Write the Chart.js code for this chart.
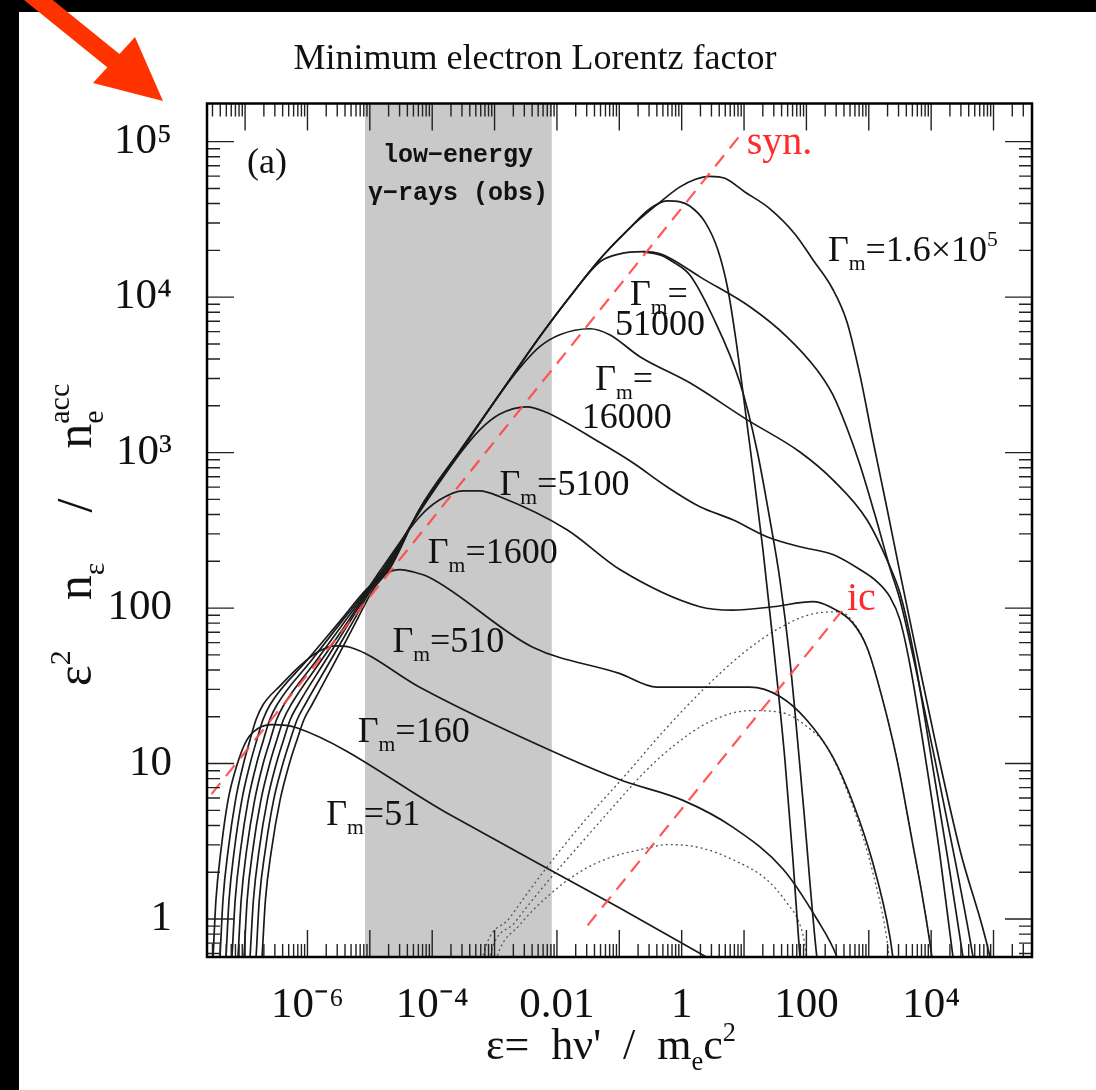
<!DOCTYPE html>
<html>
<head>
<meta charset="utf-8">
<script src="https://cdn.jsdelivr.net/npm/chart.js@4.4.1/dist/chart.umd.min.js"></script>
<style>
  html, body { margin: 0; padding: 0; background: #000; }
  #panel { position: absolute; left: 19px; top: 12px; width: 1077px; height: 1078px; background: #fff; }
  #arrow { position: absolute; left: 0; top: 0; }
</style>
</head>
<body>
<div id="panel"><canvas id="myChart" width="1077" height="1078"></canvas></div>
<svg id="arrow" width="200" height="120">
  <line x1="26" y1="-10" x2="120" y2="66" stroke="#ff3300" stroke-width="18"/>
  <polygon points="163,101 93,83 135,37" fill="#ff3300"/>
</svg>
<script>
// axis ranges and ticks
const xMin = 2.45e-8, xMax = 4.14e5;
const yMin = 0.57, yMax = 1.76e5;
const xTickVals = [1e-6, 1e-4, 1e-2, 1, 100, 1e4];
const xTickText = ['10⁻⁶', '10⁻⁴', '0.01', '1', '100', '10⁴'];
const yTickVals = [1, 10, 100, 1e3, 1e4, 1e5];
const yTickText = ['1', '10', '100', '10³', '10⁴', '10⁵'];

// grey band: low-energy gamma-rays (obs)
const bandEdges = [8.3e-6, 8.3e-3];

// total spectra: eps = h nu' / me c^2, spec = eps^2 n_eps / n_e^acc
const eps51 = [2.84e-8, 3.06e-8, 3.41e-8, 4.11e-8, 5.32e-8, 7.41e-8, 1.07e-7, 1.61e-7, 2.70e-7, 6.73e-7, 1.9e-4, 0.10, 8.6];
const spec51 = [0.35, 0.57, 1.33, 2.79, 5.8, 9.8, 14.2, 16.8, 17.8, 17.0, 4.7, 1.18, 0.43];

const eps160 = [3.68e-8, 3.96e-8, 4.42e-8, 5.36e-8, 7.01e-8, 9.32e-8, 1.20e-7, 1.50e-7, 1.94e-7, 3.63e-7, 7.59e-7, 1.48e-6, 2.76e-6, 4.81e-6, 6.3e-5, 1.2e-3, 0.10, 1.05, 6.6, 42, 147, 309, 500];
const spec160 = [0.35, 0.57, 1.33, 2.79, 5.8, 9.8, 14.2, 19.2, 23.9, 31.6, 42.5, 52.4, 57.2, 56, 31, 17.2, 7.9, 5.8, 3.9, 2.1, 1.0, 0.57, 0.3];

const eps510 = [4.59e-8, 4.94e-8, 5.53e-8, 6.73e-8, 8.85e-8, 1.19e-7, 1.54e-7, 1.94e-7, 2.51e-7, 1.0e-6, 3.45e-6, 8.68e-6, 1.75e-5, 3.05e-5, 4.92e-5, 9.22e-5, 4.1e-3, 0.10, 0.40, 12.4, 37.6, 102, 266, 557, 1160, 2180, 2830];
const spec510 = [0.35, 0.57, 1.33, 2.79, 5.8, 9.8, 14.2, 19.2, 23.9, 46.5, 84, 131, 166, 177, 171, 157, 56, 38, 31, 31, 27, 19, 11, 5.6, 2.3, 0.77, 0.35];

const eps1600 = [5.72e-8, 6.16e-8, 6.94e-8, 8.47e-8, 1.12e-7, 1.51e-7, 1.97e-7, 2.49e-7, 3.25e-7, 1.18e-6, 3.71e-6, 9.01e-6, 1.63e-5, 6.3e-5, 1.32e-4, 3.1e-4, 5.8e-4, 1.22e-3, 1.45e-2, 0.102, 1.96, 6.6, 29, 127, 238, 557, 934, 1510, 2830, 4920, 7390, 10300, 11900];
const spec1600 = [0.35, 0.57, 1.33, 2.79, 5.8, 9.8, 14.2, 19.2, 23.9, 46.5, 84, 131, 185, 387, 497, 568, 568, 520, 319, 177, 102, 97, 102, 110, 102, 80, 56, 29.9, 10.6, 3.24, 1.33, 0.57, 0.35];

const eps5100 = [7.14e-8, 7.69e-8, 8.66e-8, 1.06e-7, 1.42e-7, 1.92e-7, 2.53e-7, 3.20e-7, 4.20e-7, 1.42e-6, 4.15e-6, 9.35e-6, 1.75e-5, 6.3e-5, 2.77e-4, 5.8e-4, 1.22e-3, 3.3e-3, 6.4e-3, 4.9e-2, 0.165, 0.58, 1.96, 6.6, 23.2, 78.7, 266, 721, 1350, 2180, 3160, 4570, 7940, 13800, 22400, 26900];
const spec5100 = [0.35, 0.57, 1.33, 2.79, 5.8, 9.8, 14.2, 19.2, 23.9, 46.5, 84, 131, 185, 416, 982, 1400, 1770, 1970, 1830, 1160, 860, 603, 449, 370, 288, 248, 221, 177, 148, 118, 84, 43.2, 11.4, 2.59, 0.57, 0.35];

const eps16000 = [8.92e-8, 9.60e-8, 1.08e-7, 1.33e-7, 1.79e-7, 2.45e-7, 3.23e-7, 4.13e-7, 5.44e-7, 1.69e-6, 4.63e-6, 9.70e-6, 1.85e-5, 6.3e-5, 2.77e-4, 1.22e-3, 2.55e-3, 5.3e-3, 1.11e-2, 3.37e-2, 7.0e-2, 0.214, 1.35, 11.1, 78.7, 266, 934, 2180, 3160, 5110, 9570, 18600, 32400, 38900];
const spec16000 = [0.35, 0.57, 1.33, 2.79, 5.8, 9.8, 14.2, 19.2, 23.9, 46.5, 84, 131, 185, 423, 997, 2390, 3520, 4800, 5730, 6260, 5730, 4140, 2810, 1630, 1010, 668, 370, 185, 125, 54, 12.3, 2.41, 0.57, 0.35];

const eps51000 = [1.11e-7, 1.20e-7, 1.36e-7, 1.68e-7, 2.27e-7, 3.12e-7, 4.14e-7, 5.30e-7, 7.05e-7, 1.98e-6, 4.99e-6, 1.01e-5, 1.96e-5, 6.3e-5, 2.77e-4, 1.22e-3, 5.3e-3, 1.61e-2, 4.9e-2, 0.102, 0.239, 0.45, 0.72, 1.96, 12.4, 48.7, 147, 266, 446, 721, 1255, 2180, 3160, 5500, 11500, 24100, 46900, 56300];
const spec51000 = [0.35, 0.57, 1.33, 2.79, 5.8, 9.8, 14.2, 19.2, 23.9, 46.5, 84, 131, 185, 428, 1012, 2390, 5560, 10050, 16900, 19000, 19600, 19000, 17400, 13500, 8670, 5560, 3410, 2350, 1440, 835, 398, 182, 113, 43.2, 10.6, 2.41, 0.57, 0.35];

// steep branch leaving the 51000 peak
const epsSteepA = [0.239, 0.45, 0.72, 1.35, 3.16, 8.6, 16.1, 26, 37.6, 54.3, 88, 147, 177];
const specSteepA = [19600, 18700, 16900, 13900, 7480, 2810, 1040, 370, 152, 46.5, 5.8, 0.57, 0.35];

// unlabelled curve peaking near 4e4
const epsSteepB = [1.39e-7, 1.50e-7, 1.69e-7, 2.11e-7, 2.86e-7, 3.98e-7, 5.30e-7, 6.85e-7, 9.13e-7, 2.38e-6, 5.57e-6, 1.04e-5, 2.07e-5, 6.3e-5, 2.77e-4, 1.22e-3, 5.3e-3, 1.61e-2, 4.9e-2, 0.148, 0.309, 0.58, 0.94, 1.35, 2.36, 3.81, 5.51, 7.40, 9.95, 13.9, 20.1, 30.1, 45.2, 60.8, 78.7, 88];
const specSteepB = [0.35, 0.57, 1.33, 2.79, 5.8, 9.8, 14.2, 19.2, 23.9, 46.5, 84, 131, 185, 432, 1019, 2390, 5560, 10050, 17600, 27900, 37000, 41600, 41000, 38600, 30500, 20100, 11200, 5330, 2190, 776, 237, 54, 10.6, 2.41, 0.57, 0.35];

const eps160k = [1.73e-7, 1.87e-7, 2.12e-7, 2.65e-7, 3.63e-7, 5.06e-7, 6.79e-7, 8.80e-7, 1.18e-6, 2.87e-6, 6.23e-6, 1.12e-5, 2.19e-5, 6.3e-5, 2.77e-4, 1.22e-3, 5.3e-3, 1.61e-2, 4.9e-2, 0.148, 0.40, 0.94, 1.63, 2.83, 4.93, 10.3, 26, 65.3, 127, 266, 446, 721, 1160, 1950, 3160, 5500, 11500, 28900, 87700, 1.09e5];
const spec160k = [0.35, 0.57, 1.33, 2.79, 5.8, 9.8, 14.2, 19.2, 23.9, 46.5, 84, 131, 185, 435, 1027, 2390, 5560, 10050, 17600, 27900, 39300, 51200, 57100, 59900, 58100, 47500, 37000, 25500, 17400, 11200, 6950, 3160, 1210, 442, 169, 58, 14.2, 2.79, 0.57, 0.35];

// inverse-Compton components (dotted)
const epsIcLow = [8.4e-4, 1.09e-3, 2.55e-3, 7.7e-3, 2.33e-2, 7.0e-2, 0.214, 0.58, 1.96, 6.6, 23.2, 48.7, 78.7, 94.6, 106];
const specIcLow = [0.35, 0.57, 0.92, 1.44, 2.01, 2.48, 2.79, 3.01, 2.88, 2.41, 1.79, 1.27, 0.92, 0.68, 0.44];
const epsIcMid = [6.98e-4, 8.4e-4, 2.11e-3, 6.4e-3, 2.33e-2, 8.49e-2, 0.257, 0.778, 2.83, 12.4, 42, 102, 213, 557, 1160, 1950, 2270];
const specIcMid = [0.35, 0.57, 0.95, 1.66, 3.01, 5.43, 8.86, 13.2, 18.6, 21.9, 21.2, 17.3, 12.8, 5.3, 1.99, 0.74, 0.44];
const epsIcHigh = [5.4e-4, 6.48e-4, 1.76e-3, 6.4e-3, 2.70e-2, 0.123, 0.537, 2.36, 10.3, 37.6, 127, 346, 557, 934, 1510, 2830, 4920, 7390, 10300, 11900];
const specIcHigh = [0.35, 0.57, 1.02, 2.07, 4.23, 8.35, 16.5, 30.7, 52.4, 74.7, 91.9, 94.7, 81.6, 56, 29.9, 10.6, 3.24, 1.33, 0.57, 0.35];

// red dashed guide lines
const epsSyn = [1.0e-8, 9.3];
const specSyn = [3.74, 1.14e5];
const epsIc = [0.031, 370];
const specIc = [0.91, 96];

const SERIF = '"Liberation Serif", "Times New Roman", serif';

function toPoints(xs, ys) {
    return xs.map((x, i) => ({ x: x, y: ys[i] }));
}

const solidCurves = [
    [eps51, spec51], [eps160, spec160], [eps510, spec510], [eps1600, spec1600],
    [eps5100, spec5100], [eps16000, spec16000], [eps51000, spec51000],
    [epsSteepA, specSteepA], [epsSteepB, specSteepB], [eps160k, spec160k]
];
const dottedCurves = [[epsIcLow, specIcLow], [epsIcMid, specIcMid], [epsIcHigh, specIcHigh]];

const datasets = [];
datasets.push({
    data: [{ x: bandEdges[0], y: yMax }, { x: bandEdges[1], y: yMax }],
    borderWidth: 0, pointRadius: 0, fill: 'start', backgroundColor: '#c9c9c9', order: 10
});
dottedCurves.forEach(c => datasets.push({
    data: toPoints(c[0], c[1]), borderColor: '#555', borderWidth: 1.3, borderDash: [2, 3],
    pointRadius: 0, fill: false, cubicInterpolationMode: 'monotone', order: 2
}));
solidCurves.forEach(c => datasets.push({
    data: toPoints(c[0], c[1]), borderColor: '#1a1a1a', borderWidth: 1.7,
    pointRadius: 0, fill: false, cubicInterpolationMode: 'monotone', order: 1
}));
[[epsSyn, specSyn], [epsIc, specIc]].forEach(c => datasets.push({
    data: toPoints(c[0], c[1]), borderColor: 'rgba(255,70,70,0.9)', borderWidth: 2.2, borderDash: [14, 9],
    pointRadius: 0, fill: false, order: 0
}));

// frame with inward ticks on all four sides
const framePlugin = {
    id: 'frame',
    afterDatasetsDraw(chart) {
        const { ctx, chartArea: a, scales: { x, y } } = chart;
        ctx.save();
        ctx.strokeStyle = '#222';
        ctx.lineWidth = 1.4;
        ctx.beginPath();
        for (let e = -8; e <= 5; e++) {
            for (let m = 1; m < 10; m++) {
                const v = m * Math.pow(10, e);
                const len = m === 1 ? 27 : 13;
                const px = x.getPixelForValue(v);
                if (px > a.left + 1 && px < a.right - 1) {
                    ctx.moveTo(px, a.bottom); ctx.lineTo(px, a.bottom - len);
                    ctx.moveTo(px, a.top); ctx.lineTo(px, a.top + len);
                }
                const py = y.getPixelForValue(v);
                if (py > a.top + 1 && py < a.bottom - 1) {
                    ctx.moveTo(a.left, py); ctx.lineTo(a.left + len, py);
                    ctx.moveTo(a.right, py); ctx.lineTo(a.right - len, py);
                }
            }
        }
        ctx.stroke();
        ctx.lineWidth = 2.5;
        ctx.strokeStyle = '#000';
        ctx.strokeRect(a.left, a.top, a.right - a.left, a.bottom - a.top);
        ctx.restore();
    }
};

// text with sub/superscripts: parts = [[text, mode]], mode '', 'sub', 'sup' or 'subsup'
function drawRich(ctx, parts, x, y, size, align) {
    const small = size * 0.6;
    const widths = parts.map(([t, mode]) => {
        if (mode === 'subsup') {
            ctx.font = small + 'px ' + SERIF;
            return Math.max(ctx.measureText(t[0]).width, ctx.measureText(t[1]).width);
        }
        ctx.font = (mode ? small : size) + 'px ' + SERIF;
        return ctx.measureText(t).width;
    });
    const total = widths.reduce((s, w) => s + w, 0);
    let cx = align === 'center' ? x - total / 2 : x;
    parts.forEach(([t, mode], i) => {
        if (mode === 'subsup') {
            ctx.font = small + 'px ' + SERIF;
            ctx.fillText(t[0], cx, y + size * 0.24);
            ctx.fillText(t[1], cx, y - size * 0.45);
        } else {
            ctx.font = (mode ? small : size) + 'px ' + SERIF;
            const dy = mode === 'sub' ? size * 0.25 : mode === 'sup' ? -size * 0.42 : 0;
            ctx.fillText(t, cx, y + dy);
        }
        cx += widths[i];
    });
}

const G = ['Γ', ''], M = ['m', 'sub'];
const notes = [
    { parts: [['(a)', '']], x: 1.07e-7, y: 63000, size: 36 },
    { parts: [['syn.', '']], x: 11, y: 83000, size: 40, color: '#ff2a2a' },
    { parts: [['ic', '']], x: 446, y: 97, size: 40, color: '#ff2a2a' },
    { parts: [G, M, ['=1.6×10', ''], ['5', 'sup']], x: 221, y: 17000, size: 36 },
    { parts: [G, M, ['=', '']], x: 0.148, y: 8900, size: 36 },
    { parts: [['51000', '']], x: 0.085, y: 5700, size: 36 },
    { parts: [G, M, ['=', '']], x: 0.041, y: 2520, size: 36 },
    { parts: [['16000', '']], x: 0.025, y: 1440, size: 36 },
    { parts: [G, M, ['=5100', '']], x: 1.2e-3, y: 535, size: 36 },
    { parts: [G, M, ['=1600', '']], x: 8.5e-5, y: 195, size: 36 },
    { parts: [G, M, ['=510', '']], x: 2.3e-5, y: 52, size: 36 },
    { parts: [G, M, ['=160', '']], x: 6.4e-6, y: 13.8, size: 36 },
    { parts: [G, M, ['=51', '']], x: 2.0e-6, y: 4.05, size: 36 }
];

const textPlugin = {
    id: 'texts',
    afterDraw(chart) {
        const { ctx, scales: { x, y } } = chart;
        ctx.save();
        ctx.textBaseline = 'alphabetic';
        ctx.textAlign = 'left';
        ctx.fillStyle = '#111';
        // title
        drawRich(ctx, [['Minimum electron Lorentz factor', '']], 516, 57, 36, 'center');
        // band caption
        ctx.font = 'bold 25px "Liberation Mono", monospace';
        ctx.textAlign = 'center';
        ctx.fillText('low−energy', x.getPixelForValue(2.6e-4), y.getPixelForValue(74000));
        ctx.fillText('γ−rays (obs)', x.getPixelForValue(2.6e-4), y.getPixelForValue(42200));
        ctx.textAlign = 'left';
        notes.forEach(n => {
            ctx.fillStyle = n.color || '#111';
            drawRich(ctx, n.parts, x.getPixelForValue(n.x), y.getPixelForValue(n.y), n.size, 'left');
        });
        ctx.fillStyle = '#111';
        // x axis title
        drawRich(ctx, [['ε=  hν\'  /  m', ''], ['e', 'sub'], ['c', ''], ['2', 'sup']], 592, 1047, 44, 'center');
        // y axis title, rotated
        ctx.translate(72, 523);
        ctx.rotate(-Math.PI / 2);
        drawRich(ctx, [['ε', ''], ['2', 'sup'], ['    n', ''], ['ε', 'sub'], ['    /    n', ''], [['e', 'acc'], 'subsup']], 0, 0, 50, 'center');
        ctx.restore();
    }
};

const ctx = document.getElementById('myChart').getContext('2d');
const myChart = new Chart(ctx, {
    type: 'line',
    data: { datasets: datasets },
    options: {
        responsive: false,
        animation: false,
        devicePixelRatio: 1,
        layout: { padding: { left: 0, right: 64, top: 91.5, bottom: 0 } },
        plugins: { legend: { display: false }, tooltip: { enabled: false }, title: { display: false } },
        scales: {
            x: {
                type: 'logarithmic', min: xMin, max: xMax,
                grid: { display: false }, border: { display: false },
                afterBuildTicks: s => { s.ticks = xTickVals.map(v => ({ value: v })); },
                afterFit: s => { s.height = 133; },
                ticks: {
                    autoSkip: false, maxRotation: 0, padding: 15, color: '#111',
                    font: { family: SERIF, size: 43 },
                    callback: v => { const i = xTickVals.indexOf(v); return i >= 0 ? xTickText[i] : ''; }
                }
            },
            y: {
                type: 'logarithmic', min: yMin, max: yMax,
                grid: { display: false }, border: { display: false },
                afterBuildTicks: s => { s.ticks = yTickVals.map(v => ({ value: v })); },
                afterFit: s => { s.width = 188; },
                ticks: {
                    autoSkip: false, padding: 27, color: '#111',
                    font: { family: SERIF, size: 43 },
                    callback: v => { const i = yTickVals.indexOf(v); return i >= 0 ? yTickText[i] : ''; }
                }
            }
        }
    },
    plugins: [framePlugin, textPlugin]
});
</script>
</body>
</html>
